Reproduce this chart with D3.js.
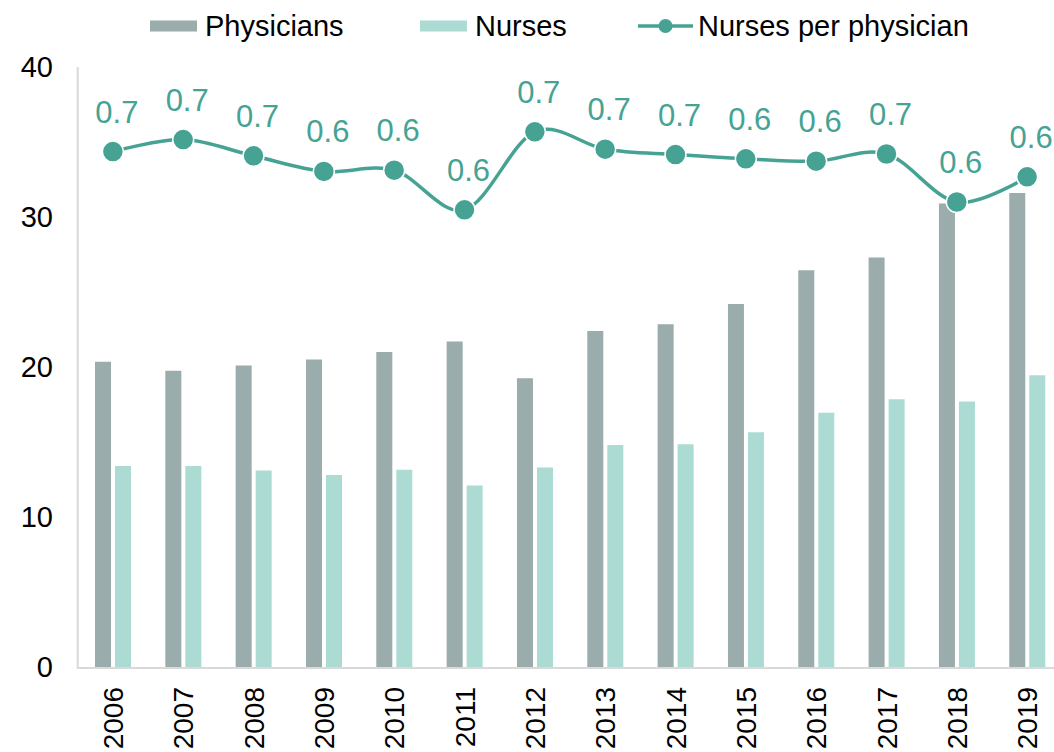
<!DOCTYPE html>
<html>
<head>
<meta charset="utf-8">
<script src="https://cdn.jsdelivr.net/npm/d3@7"></script>
<style>
  html, body { margin: 0; padding: 0; background: #fff; }
  svg { display: block; font-family: "Liberation Sans", Arial, sans-serif; }
  .tick-label { font-size: 29px; fill: #000; }
  .legend-text { font-size: 29px; fill: #000; }
  .value-label { font-size: 31px; fill: #46a394; text-anchor: middle; }
  .axis-line { stroke: #d9d9d9; stroke-width: 2px; fill: none; }
</style>
</head>
<body>
<div id="chart"></div>
<script>
// data
const years = ['2006','2007','2008','2009','2010','2011','2012','2013','2014','2015','2016','2017','2018','2019']
const physicians = [20.35, 19.75, 20.1, 20.5, 21.0, 21.7, 19.25, 22.4, 22.85, 24.2, 26.45, 27.3, 30.9, 31.6]
const nurses = [13.4, 13.4, 13.1, 12.8, 13.15, 12.1, 13.3, 14.8, 14.85, 15.65, 16.95, 17.85, 17.7, 19.45]
const ratio = [0.659, 0.679, 0.652, 0.626, 0.628, 0.562, 0.692, 0.663, 0.654, 0.647, 0.643, 0.655, 0.575, 0.617]
const yTicks = [0, 10, 20, 30, 40]

//consts
const
  chartW = 1054,
  chartH = 752,
  plotLeft = 77.7,
  plotRight = 1062.3,
  plotTop = 67,
  plotBottom = 667,
  teal = '#46a394',
  physColor = '#9aacab',
  nurseColor = '#acdbd4'

//scales
const x = d3.scaleBand().domain(years).range([plotLeft, plotRight]).padding(0)
const xSub = d3.scaleBand().domain(['Physicians', 'Nurses'])
  .range([17.3, 53.3]).paddingInner(0.2).paddingOuter(0)
const y = d3.scaleLinear().domain([0, 40]).range([plotBottom, plotTop])
// hidden secondary axis for the ratio line
const y2 = d3.scaleLinear().domain([-0.2, 0.8]).range([plotBottom, plotTop])

const svg = d3.select('#chart')
  .append('svg')
  .attr('width', chartW)
  .attr('height', chartH)

//y tick labels
svg.append('g')
  .selectAll('text')
  .data(yTicks)
  .enter()
  .append('text')
  .attr('class', 'tick-label')
  .attr('x', 53)
  .attr('y', d => y(d))
  .attr('dy', '0.35em')
  .attr('text-anchor', 'end')
  .text(d => d)

//bars
const group = svg.append('g')
  .selectAll('g')
  .data(years)
  .enter()
  .append('g')
  .attr('transform', d => 'translate(' + x(d) + ',0)')

group.append('rect')
  .attr('x', xSub('Physicians'))
  .attr('width', xSub.bandwidth())
  .attr('y', (d, i) => y(physicians[i]))
  .attr('height', (d, i) => y(0) - y(physicians[i]))
  .attr('fill', physColor)

group.append('rect')
  .attr('x', xSub('Nurses'))
  .attr('width', xSub.bandwidth())
  .attr('y', (d, i) => y(nurses[i]))
  .attr('height', (d, i) => y(0) - y(nurses[i]))
  .attr('fill', nurseColor)

//axis lines
svg.append('path')
  .attr('class', 'axis-line')
  .attr('d', 'M' + plotLeft + ',' + plotTop + 'V' + (plotBottom + 1) + 'H' + chartW)

//x labels, rotated
svg.append('g')
  .selectAll('text')
  .data(years)
  .enter()
  .append('text')
  .attr('class', 'tick-label')
  .attr('transform', d => 'translate(' + (x(d) + x.bandwidth() / 2) + ',687) rotate(-90)')
  .attr('dy', '0.36em')
  .attr('text-anchor', 'end')
  .style('font-size', '28px')
  .text(d => d)

//ratio line
const cx = (d, i) => x(years[i]) + x.bandwidth() / 2
const line = d3.line()
  .x(cx)
  .y(d => y2(d))
  .curve(d3.curveCardinal.tension(0))

svg.append('path')
  .datum(ratio)
  .attr('d', line)
  .attr('fill', 'none')
  .attr('stroke', teal)
  .attr('stroke-width', 3.5)

svg.append('g')
  .selectAll('circle')
  .data(ratio)
  .enter()
  .append('circle')
  .attr('cx', cx)
  .attr('cy', d => y2(d))
  .attr('r', 10.5)
  .attr('fill', teal)
  .attr('stroke', '#fff')
  .attr('stroke-width', 1.5)

//value labels
svg.append('g')
  .selectAll('text')
  .data(ratio)
  .enter()
  .append('text')
  .attr('class', 'value-label')
  .attr('x', (d, i) => cx(d, i) + 4)
  .attr('y', d => y2(d) - 29)
  .text(d => d3.format('.1f')(d))

//legend
const legend = svg.append('g')

legend.append('rect')
  .attr('x', 150).attr('y', 20.5).attr('width', 47).attr('height', 11)
  .attr('fill', physColor)
legend.append('text')
  .attr('class', 'legend-text')
  .attr('x', 205).attr('y', 36)
  .text('Physicians')

legend.append('rect')
  .attr('x', 420).attr('y', 20.5).attr('width', 47).attr('height', 11)
  .attr('fill', nurseColor)
legend.append('text')
  .attr('class', 'legend-text')
  .attr('x', 475).attr('y', 36)
  .text('Nurses')

legend.append('line')
  .attr('x1', 638).attr('x2', 693).attr('y1', 26).attr('y2', 26)
  .attr('stroke', teal).attr('stroke-width', 3.5)
legend.append('circle')
  .attr('cx', 665.5).attr('cy', 26).attr('r', 7)
  .attr('fill', teal)
legend.append('text')
  .attr('class', 'legend-text')
  .attr('x', 698).attr('y', 36)
  .text('Nurses per physician')
</script>
</body>
</html>
